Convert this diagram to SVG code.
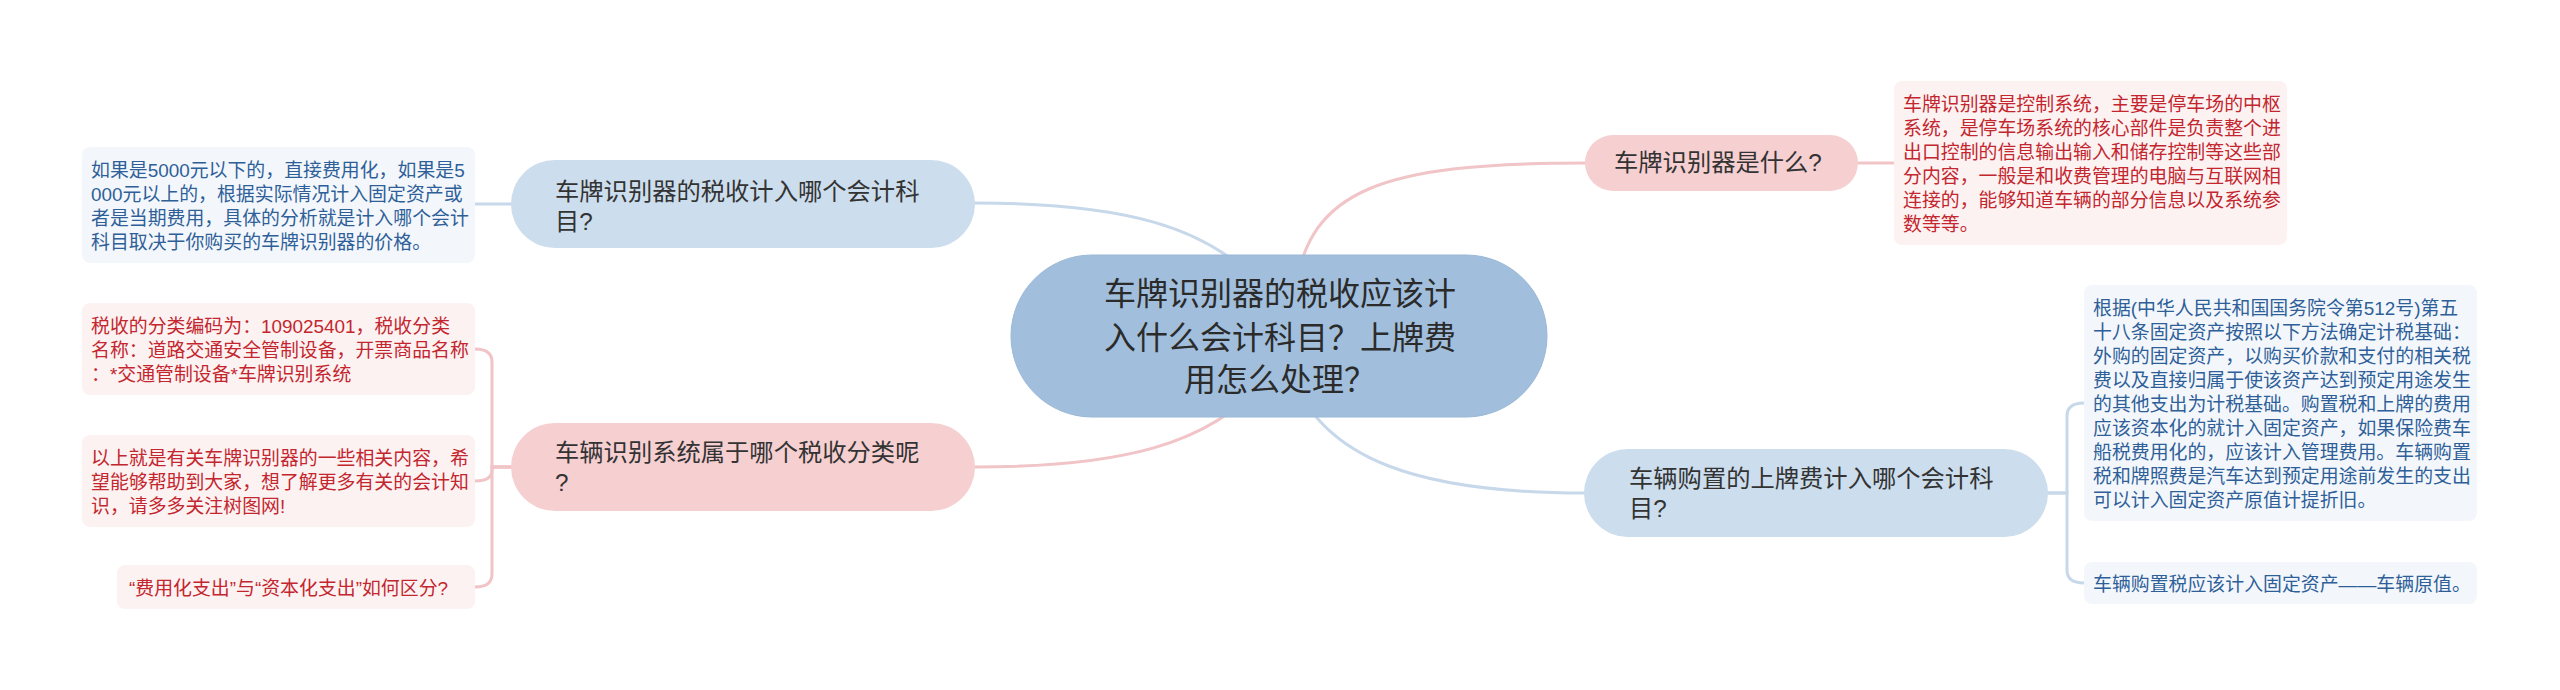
<svg xmlns="http://www.w3.org/2000/svg" width="2560" height="690" viewBox="0 0 2560 690">
<style>
text{font-family:"Liberation Sans","Noto Sans CJK SC",sans-serif;}
.c-blue{fill:none;stroke:#c7d8ea;stroke-width:3;stroke-linecap:round;}
.c-pink{fill:none;stroke:#f1c4c7;stroke-width:3;stroke-linecap:round;}
.root{fill:#a1bfdc;stroke:#99b8d6;stroke-width:1;}
.p-blue{fill:#ccdded;}
.p-pink{fill:#f6cfd1;}
.l-blue{fill:#f3f7fc;}
.l-pink{fill:#fdf2f2;}
.t-root{font-size:32px;fill:#2b2b2b;text-anchor:middle;}
.t-main{font-size:24.3px;fill:#333333;}
.t-lb{font-size:18.9px;fill:#2f5f98;}
.t-lp{font-size:18.9px;fill:#c3262e;}
</style>
<rect width="2560" height="690" fill="#ffffff"/>
<g id="connectors">
<path class="c-blue" d="M975 203 C1120 203 1210 225 1265 290"/>
<path class="c-pink" d="M975 467 C1120 467 1210 445 1265 380"/>
<path class="c-pink" d="M1295 290 C1310 190 1380 163 1585 163"/>
<path class="c-blue" d="M1290 370 C1320 460 1420 493 1584 493"/>
<path class="c-blue" d="M475 204 H511"/>
<path class="c-pink" d="M1858 163 H1894"/>
<path class="c-pink" d="M511 467 H492 V362 Q492 349 475 349"/>
<path class="c-pink" d="M511 467 H492 V470 Q492 481 475 481"/>
<path class="c-pink" d="M511 467 H492 V574 Q492 587 475 587"/>
<path class="c-blue" d="M2048 493 H2067 V416 Q2067 403 2084 403"/>
<path class="c-blue" d="M2048 493 H2067 V570 Q2067 583 2084 583"/>
</g>
<g id="root">
<rect class="root" x="1011" y="255" width="536" height="162" rx="81"/>
<text class="t-root" x="1280" y="305">车牌识别器的税收应该计</text>
<text class="t-root" x="1280" y="349">入什么会计科目？上牌费</text>
<text class="t-root" x="1280" y="391">用怎么处理？</text>
</g>
<g id="n-left-top">
<rect class="p-blue" x="511" y="160" width="464" height="88" rx="44"/>
<text class="t-main" x="555" y="200">车牌识别器的税收计入哪个会计科</text>
<text class="t-main" x="555" y="230">目?</text>
</g>
<g id="leaf-left-top">
<rect class="l-blue" x="82" y="147" width="393" height="116" rx="8"/>
<text class="t-lb" x="91" y="176.5">如果是5000元以下的，直接费用化，如果是5</text>
<text class="t-lb" x="91" y="200.5">000元以上的，根据实际情况计入固定资产或</text>
<text class="t-lb" x="91" y="224.5">者是当期费用，具体的分析就是计入哪个会计</text>
<text class="t-lb" x="91" y="248.5">科目取决于你购买的车牌识别器的价格。</text>
</g>
<g id="n-left-bottom">
<rect class="p-pink" x="511" y="423" width="464" height="88" rx="44"/>
<text class="t-main" x="555" y="461">车辆识别系统属于哪个税收分类呢</text>
<text class="t-main" x="555" y="491">?</text>
</g>
<g id="leaf-a">
<rect class="l-pink" x="82" y="303" width="393" height="92" rx="8"/>
<text class="t-lp" x="91" y="332.5">税收的分类编码为：109025401，税收分类</text>
<text class="t-lp" x="91" y="356.5">名称：道路交通安全管制设备，开票商品名称</text>
<text class="t-lp" x="91" y="380.5">：*交通管制设备*车牌识别系统</text>
</g>
<g id="leaf-b">
<rect class="l-pink" x="82" y="435" width="393" height="92" rx="8"/>
<text class="t-lp" x="91" y="464.5">以上就是有关车牌识别器的一些相关内容，希</text>
<text class="t-lp" x="91" y="488.5">望能够帮助到大家，想了解更多有关的会计知</text>
<text class="t-lp" x="91" y="512.5">识，请多多关注树图网!</text>
</g>
<g id="leaf-c">
<rect class="l-pink" x="117" y="565" width="358" height="44" rx="8"/>
<text class="t-lp" x="129" y="594.5">“费用化支出”与“资本化支出”如何区分?</text>
</g>
<g id="n-right-top">
<rect class="p-pink" x="1585" y="135" width="273" height="56" rx="28"/>
<text class="t-main" x="1614" y="171">车牌识别器是什么?</text>
</g>
<g id="leaf-right-top">
<rect class="l-pink" x="1894" y="81" width="393" height="164" rx="8"/>
<text class="t-lp" x="1903" y="110.5">车牌识别器是控制系统，主要是停车场的中枢</text>
<text class="t-lp" x="1903" y="134.5">系统，是停车场系统的核心部件是负责整个进</text>
<text class="t-lp" x="1903" y="158.5">出口控制的信息输出输入和储存控制等这些部</text>
<text class="t-lp" x="1903" y="182.5">分内容，一般是和收费管理的电脑与互联网相</text>
<text class="t-lp" x="1903" y="206.5">连接的，能够知道车辆的部分信息以及系统参</text>
<text class="t-lp" x="1903" y="230.5">数等等。</text>
</g>
<g id="n-right-bottom">
<rect class="p-blue" x="1584" y="449" width="464" height="88" rx="44"/>
<text class="t-main" x="1629" y="487">车辆购置的上牌费计入哪个会计科</text>
<text class="t-main" x="1629" y="517">目?</text>
</g>
<g id="leaf-d">
<rect class="l-blue" x="2084" y="285" width="393" height="236" rx="8"/>
<text class="t-lb" x="2093" y="314.5">根据(中华人民共和国国务院令第512号)第五</text>
<text class="t-lb" x="2093" y="338.5">十八条固定资产按照以下方法确定计税基础：</text>
<text class="t-lb" x="2093" y="362.5">外购的固定资产，以购买价款和支付的相关税</text>
<text class="t-lb" x="2093" y="386.5">费以及直接归属于使该资产达到预定用途发生</text>
<text class="t-lb" x="2093" y="410.5">的其他支出为计税基础。购置税和上牌的费用</text>
<text class="t-lb" x="2093" y="434.5">应该资本化的就计入固定资产，如果保险费车</text>
<text class="t-lb" x="2093" y="458.5">船税费用化的，应该计入管理费用。车辆购置</text>
<text class="t-lb" x="2093" y="482.5">税和牌照费是汽车达到预定用途前发生的支出</text>
<text class="t-lb" x="2093" y="506.5">可以计入固定资产原值计提折旧。</text>
</g>
<g id="leaf-e">
<rect class="l-blue" x="2084" y="562" width="393" height="42" rx="8"/>
<text class="t-lb" x="2093" y="590.5">车辆购置税应该计入固定资产——车辆原值。</text>
</g>
</svg>
